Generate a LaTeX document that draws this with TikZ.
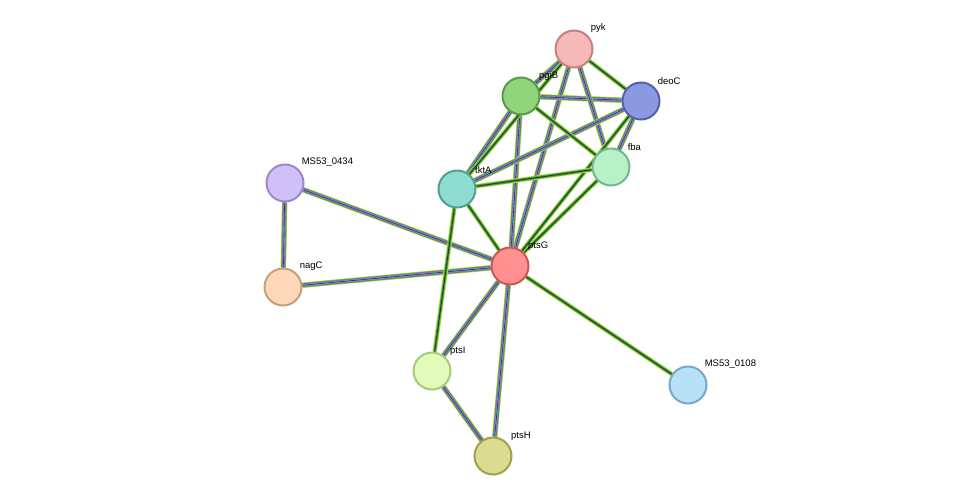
\documentclass[tikz,border=0pt]{standalone}
\usepackage{fontspec}
\setmainfont{Liberation Sans}
\definecolor{lgreen}{RGB}{60, 180, 60}
\definecolor{lyellow}{RGB}{200, 220, 60}
\definecolor{lmag}{RGB}{220, 50, 220}
\definecolor{lcyan}{RGB}{70, 180, 230}
\tikzset{
  prot/.style={circle, minimum size=37pt, inner sep=0, line width=2pt},
  lbl/.style={font=\fontsize{9.5}{11}\selectfont, inner sep=0, label distance=4pt},
  weak/.style={line width=3.4pt, draw=lyellow, postaction={draw=lgreen, line width=1.6pt}},
  mid/.style={line width=4.4pt, draw=lyellow, postaction={draw=lgreen, line width=3pt},
    postaction={draw=black!80, line width=1pt}},
  strong/.style={line width=5.6pt, draw=lyellow, postaction={draw=lgreen, line width=4.4pt},
    postaction={draw=lmag, line width=3pt}, postaction={draw=lcyan, line width=1.8pt},
    postaction={draw=black!80, line width=0.6pt}},
  pyk/.style={fill={rgb,255:red,245;green,185;blue,185}, draw={rgb,255:red,200;green,128;blue,128}, label={[lbl]45:pyk}},
  pgiB/.style={fill={rgb,255:red,143;green,214;blue,122}, draw={rgb,255:red,90;green,154;blue,74}, label={[lbl]40:pgiB}},
  deoC/.style={fill={rgb,255:red,139;green,154;blue,224}, draw={rgb,255:red,85;green,96;blue,168}, label={[lbl]45:deoC}},
  fba/.style={fill={rgb,255:red,184;green,240;blue,200}, draw={rgb,255:red,112;green,184;blue,136}, label={[lbl]45:fba}},
  tktA/.style={fill={rgb,255:red,143;green,220;blue,208}, draw={rgb,255:red,80;green,160;blue,152}, label={[lbl]40:tktA}},
  ms0434/.style={fill={rgb,255:red,208;green,192;blue,248}, draw={rgb,255:red,154;green,136;blue,200}, label={[lbl]45:MS53\_0434}},
  ptsG/.style={fill={rgb,255:red,255;green,144;blue,144}, draw={rgb,255:red,200;green,88;blue,88}, label={[lbl]40:ptsG}},
  nagC/.style={fill={rgb,255:red,252;green,216;blue,184}, draw={rgb,255:red,200;green,160;blue,120}, label={[lbl]45:nagC}},
  ptsI/.style={fill={rgb,255:red,224;green,252;blue,184}, draw={rgb,255:red,168;green,200;blue,128}, label={[lbl]40:ptsI}},
  ms0108/.style={fill={rgb,255:red,184;green,224;blue,248}, draw={rgb,255:red,120;green,168;blue,200}, label={[lbl]45:MS53\_0108}},
  ptsH/.style={fill={rgb,255:red,220;green,220;blue,144}, draw={rgb,255:red,160;green,160;blue,80}, label={[lbl]40:ptsH}}
}
\begin{document}
\begin{tikzpicture}[x=1pt, y=-1pt]
  \useasboundingbox (0,0) rectangle (975,501);
  % protein positions
  \node[prot] (pyk) at (574,49) {};
  \node[prot] (pgiB) at (521,96) {};
  \node[prot] (deoC) at (641,101) {};
  \node[prot] (fba) at (611,167) {};
  \node[prot] (tktA) at (457,189) {};
  \node[prot] (ms0434) at (285,183) {};
  \node[prot] (ptsG) at (510,266) {};
  \node[prot] (nagC) at (283,287) {};
  \node[prot] (ptsI) at (432,371) {};
  \node[prot] (ms0108) at (688,385) {};
  \node[prot] (ptsH) at (493,456) {};
  % links
  \foreach \a/\b in {ptsG/pyk, ptsG/pgiB, ptsG/ptsI, ptsG/ptsH, ptsG/ms0434, ptsG/nagC,
      tktA/pgiB, pgiB/pyk, pgiB/deoC, pyk/fba, deoC/fba, tktA/deoC, ptsI/ptsH, ms0434/nagC}
    \draw[strong] (\a) -- (\b);
  \foreach \a/\b in {ptsG/tktA, ptsG/fba, ptsG/deoC, tktA/fba, tktA/ptsI, pgiB/fba, pyk/deoC, tktA/pyk, ptsG/ms0108}
    \draw[mid] (\a) -- (\b);
  % proteins on top, with labels
  \foreach \n in {pyk,pgiB,deoC,fba,tktA,ms0434,ptsG,nagC,ptsI,ms0108,ptsH}
    \node[prot, \n] at (\n) {};
\end{tikzpicture}
\end{document}
